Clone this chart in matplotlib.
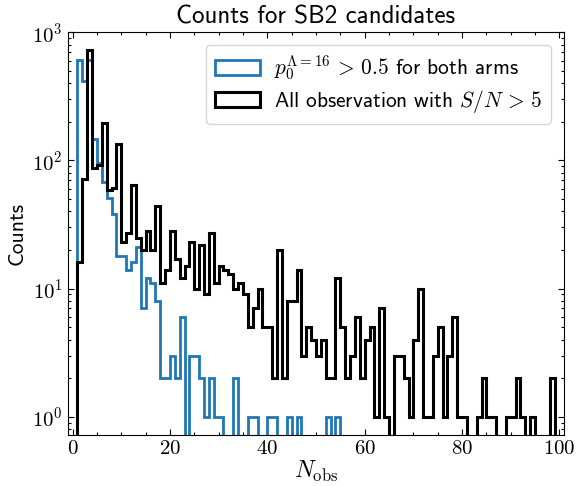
import numpy as np
import matplotlib
matplotlib.use('Agg')
import matplotlib.pyplot as plt
from matplotlib.ticker import AutoMinorLocator

plt.rcParams['font.family'] = 'cmr10'
plt.rcParams['mathtext.fontset'] = 'cm'
plt.rcParams['axes.formatter.use_mathtext'] = True

# number of observations per star, one bin per integer value
n_obs = np.arange(1, 100)

# p0 > 0.5 in both arms (N_obs = 1..54, zero above)
counts_sb2 = [612, 414, 605, 147, 95, 68, 51, 38, 18, 18,
              14, 16, 21, 7, 12, 11, 8, 2, 2, 3,
              2, 6, 0, 3, 3, 2, 1, 2, 1, 1,
              0, 0, 2, 0, 0, 1, 1, 0, 0, 1,
              1, 0, 0, 1, 0, 1, 0, 0, 0, 0,
              0, 1, 0, 1]

# all observations with S/N > 5 (N_obs = 1..99)
counts_all = [16, 72, 732, 87, 92, 196, 59, 61, 135, 23,
              27, 64, 25, 20, 28, 20, 44, 11, 14, 28,
              17, 12, 15, 23, 10, 22, 9, 27, 11, 15,
              14, 13, 10, 11, 9, 5, 7, 10, 5, 5,
              2, 20, 2, 8, 8, 14, 3, 5, 4, 3,
              4, 2, 2, 12, 5, 2, 3, 6, 2, 4,
              5, 1, 7, 1, 0, 3, 3, 2, 1, 4,
              10, 1, 1, 3, 5, 1, 3, 6, 1, 1,
              0, 0, 1, 2, 1, 1, 0, 0, 1, 1,
              2, 1, 0, 1, 0, 0, 0, 2, 0]

sb2 = np.zeros(len(n_obs))
sb2[:len(counts_sb2)] = counts_sb2
edges = np.append(n_obs, n_obs[-1] + 1)

fig = plt.figure(figsize=(5.76, 4.86), dpi=100)
ax = fig.add_subplot(111)
fig.subplots_adjust(left=0.1175, right=0.9797, bottom=0.105, top=0.9335)

ax.hist(n_obs, bins=edges, weights=sb2, histtype='step', color='C0', lw=2.0,
        label=r'$p_0^{\Lambda=16} \,>\, 0.5$ for both arms')
ax.hist(n_obs, bins=edges, weights=counts_all, histtype='step', color='k', lw=2.2,
        label=r'All observation with $S/N \,>\, 5$')

ax.set_yscale('log')
ax.set_xlim(-1, 101)
ax.set_ylim(0.72, 1000)
ax.xaxis.set_minor_locator(AutoMinorLocator())
ax.tick_params(which='both', direction='in', top=True, right=True, labelsize=15)
ax.tick_params(which='major', length=4.5, width=0.8)
ax.tick_params(which='minor', length=2.5, width=0.8)

ax.set_xlabel(r'$N_{\rm obs}$', fontsize=17, labelpad=1)
ax.set_ylabel('Counts', family='cmss10', fontsize=15.5)
ax.set_title('Counts for SB2 candidates', family='cmss10', fontsize=18)
ax.legend(loc='upper right', prop={'family': 'cmss10', 'size': 15.4},
          handlelength=2.1, handletextpad=0.7, labelspacing=0.25,
          borderaxespad=0.6)

plt.savefig('out.png')
